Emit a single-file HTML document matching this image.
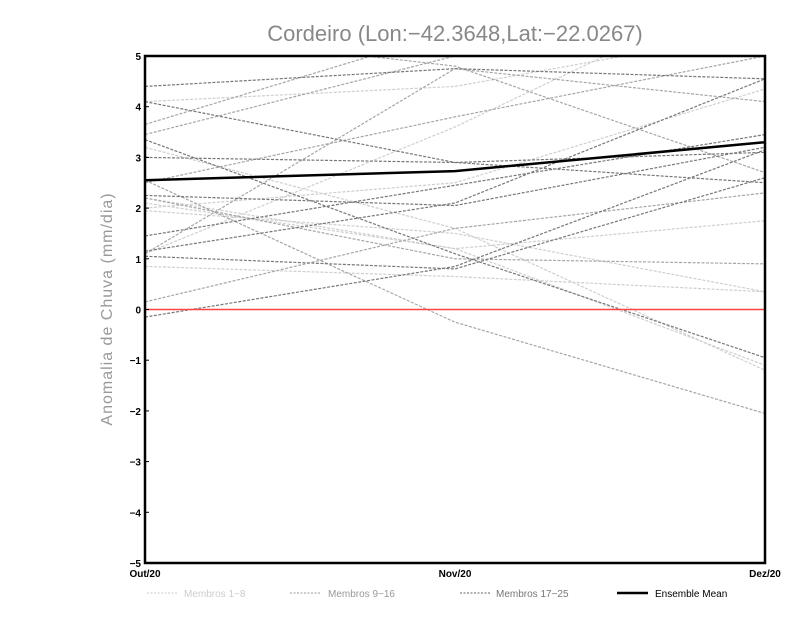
<!DOCTYPE html>
<html><head><meta charset="utf-8">
<style>
html,body{margin:0;padding:0;background:#fff;width:800px;height:618px;overflow:hidden}
svg text{font-family:"Liberation Sans",sans-serif}
</style></head>
<body>
<svg id="chart" width="800" height="618" viewBox="0 0 800 618" xmlns="http://www.w3.org/2000/svg">
<defs><clipPath id="pc"><rect x="145" y="56" width="620" height="507"/></clipPath></defs>
<text x="455" y="41" text-anchor="middle" font-size="22" fill="#888">Cordeiro (Lon:−42.3648,Lat:−22.0267)</text>
<text transform="translate(112,309) rotate(-90)" text-anchor="middle" font-size="16" fill="#999" letter-spacing="1">Anomalia de Chuva (mm/dia)</text>
<g id="members" clip-path="url(#pc)"></g>
<g id="axes"></g>
<g id="legend">
<line x1="147" y1="593" x2="178" y2="593" stroke="#ccc" stroke-dasharray="2,1.5"/>
<text x="184" y="597" font-size="10" fill="#ccc">Membros 1−8</text>
<line x1="290" y1="593" x2="321" y2="593" stroke="#999" stroke-dasharray="2,1.5"/>
<text x="328" y="597" font-size="10" fill="#999">Membros 9−16</text>
<line x1="460" y1="593" x2="490" y2="593" stroke="#666" stroke-dasharray="2,1.5"/>
<text x="496" y="597" font-size="10" fill="#777">Membros 17−25</text>
<line x1="617" y1="593" x2="648" y2="593" stroke="#000" stroke-width="2.5"/>
<text x="655" y="597" font-size="10" fill="#000">Ensemble Mean</text>
</g>
</svg>
<script>
const categories = ["Out/20","Nov/20","Dez/20"];
const yTicks = [-5,-4,-3,-2,-1,0,1,2,3,4,5];
const membersLight = [[4.1,4.4,5.5],[1.1,3.6,6.5],[2.2,1.2,-1.1],[2.1,1.2,1.75],[1.95,1.5,0.35],[0.85,0.65,0.35],[3.2,1.6,-1.2],[2.0,2.5,4.35]];
const membersMedium = [[5.5,4.8,2.7],[3.45,5.0,7],[2.5,3.8,5],[1.1,4.75,4.1],[2.2,1.0,0.9],[0.15,1.6,2.3],[3.65,5.5,6],[2.55,-0.25,-2.05]];
const membersDark = [[4.4,4.75,4.55],[4.1,2.9,2.5],[3.0,2.9,3.1],[1.15,2.1,4.55],[2.25,2.05,3.2],[1.45,2.45,3.45],[-0.15,0.85,3.15],[3.35,1.1,-0.95],[1.05,0.8,2.6]];
const ensembleMean = [2.55,2.73,3.3];

const X0=145,X1=765,Y0=563,Y1=56,VMIN=-5,VMAX=5;
const xs=i=>X0+(X1-X0)*i/(categories.length-1);
const ys=v=>Y0-(v-VMIN)/(VMAX-VMIN)*(Y0-Y1);
const NS="http://www.w3.org/2000/svg";
const mg=document.getElementById('members'), ax=document.getElementById('axes');
function mk(t,a,p){const e=document.createElementNS(NS,t);for(const k in a)e.setAttribute(k,a[k]);p.appendChild(e);return e;}
function pts(arr){return arr.map((v,i)=>xs(i)+','+ys(v)).join(' ');}
function drawGroup(arr,color,name){arr.forEach((m,i)=>{const p=mk('polyline',{points:pts(m),fill:'none',stroke:color,'stroke-width':1.2,'stroke-dasharray':'3,1.5'},mg);

});}
drawGroup(membersLight,'#cfcfcf','member-light');
drawGroup(membersMedium,'#a6a6a6','member-medium');
drawGroup(membersDark,'#777','member-dark');
const zl=mk('line',{x1:X0,x2:X1,y1:ys(0),y2:ys(0),stroke:'#f44',"stroke-width":1.5},mg);


const ml=mk('polyline',{points:pts(ensembleMean),fill:'none',stroke:'#000','stroke-width':2.5},mg);


const fr=mk('rect',{x:X0,y:Y1,width:X1-X0,height:Y0-Y1,fill:'none',stroke:'#000','stroke-width':2.5},ax);


yTicks.forEach(v=>{
 mk('line',{x1:X0,x2:X0+4,y1:ys(v),y2:ys(v),stroke:'#000','stroke-width':1},ax);
 const t=mk('text',{x:X0-4,y:ys(v)+4,'text-anchor':'end','font-size':10,'font-weight':'bold',fill:'#000'},ax);
 t.textContent=(v<0?'−'+(-v):String(v));
 
 
});
categories.forEach((c,i)=>{
 const t=mk('text',{x:xs(i),y:Y0+14,'text-anchor':'middle','font-size':10,'font-weight':'bold',fill:'#000'},ax);
 t.textContent=c;
 
 
});
</script>
</body></html>
